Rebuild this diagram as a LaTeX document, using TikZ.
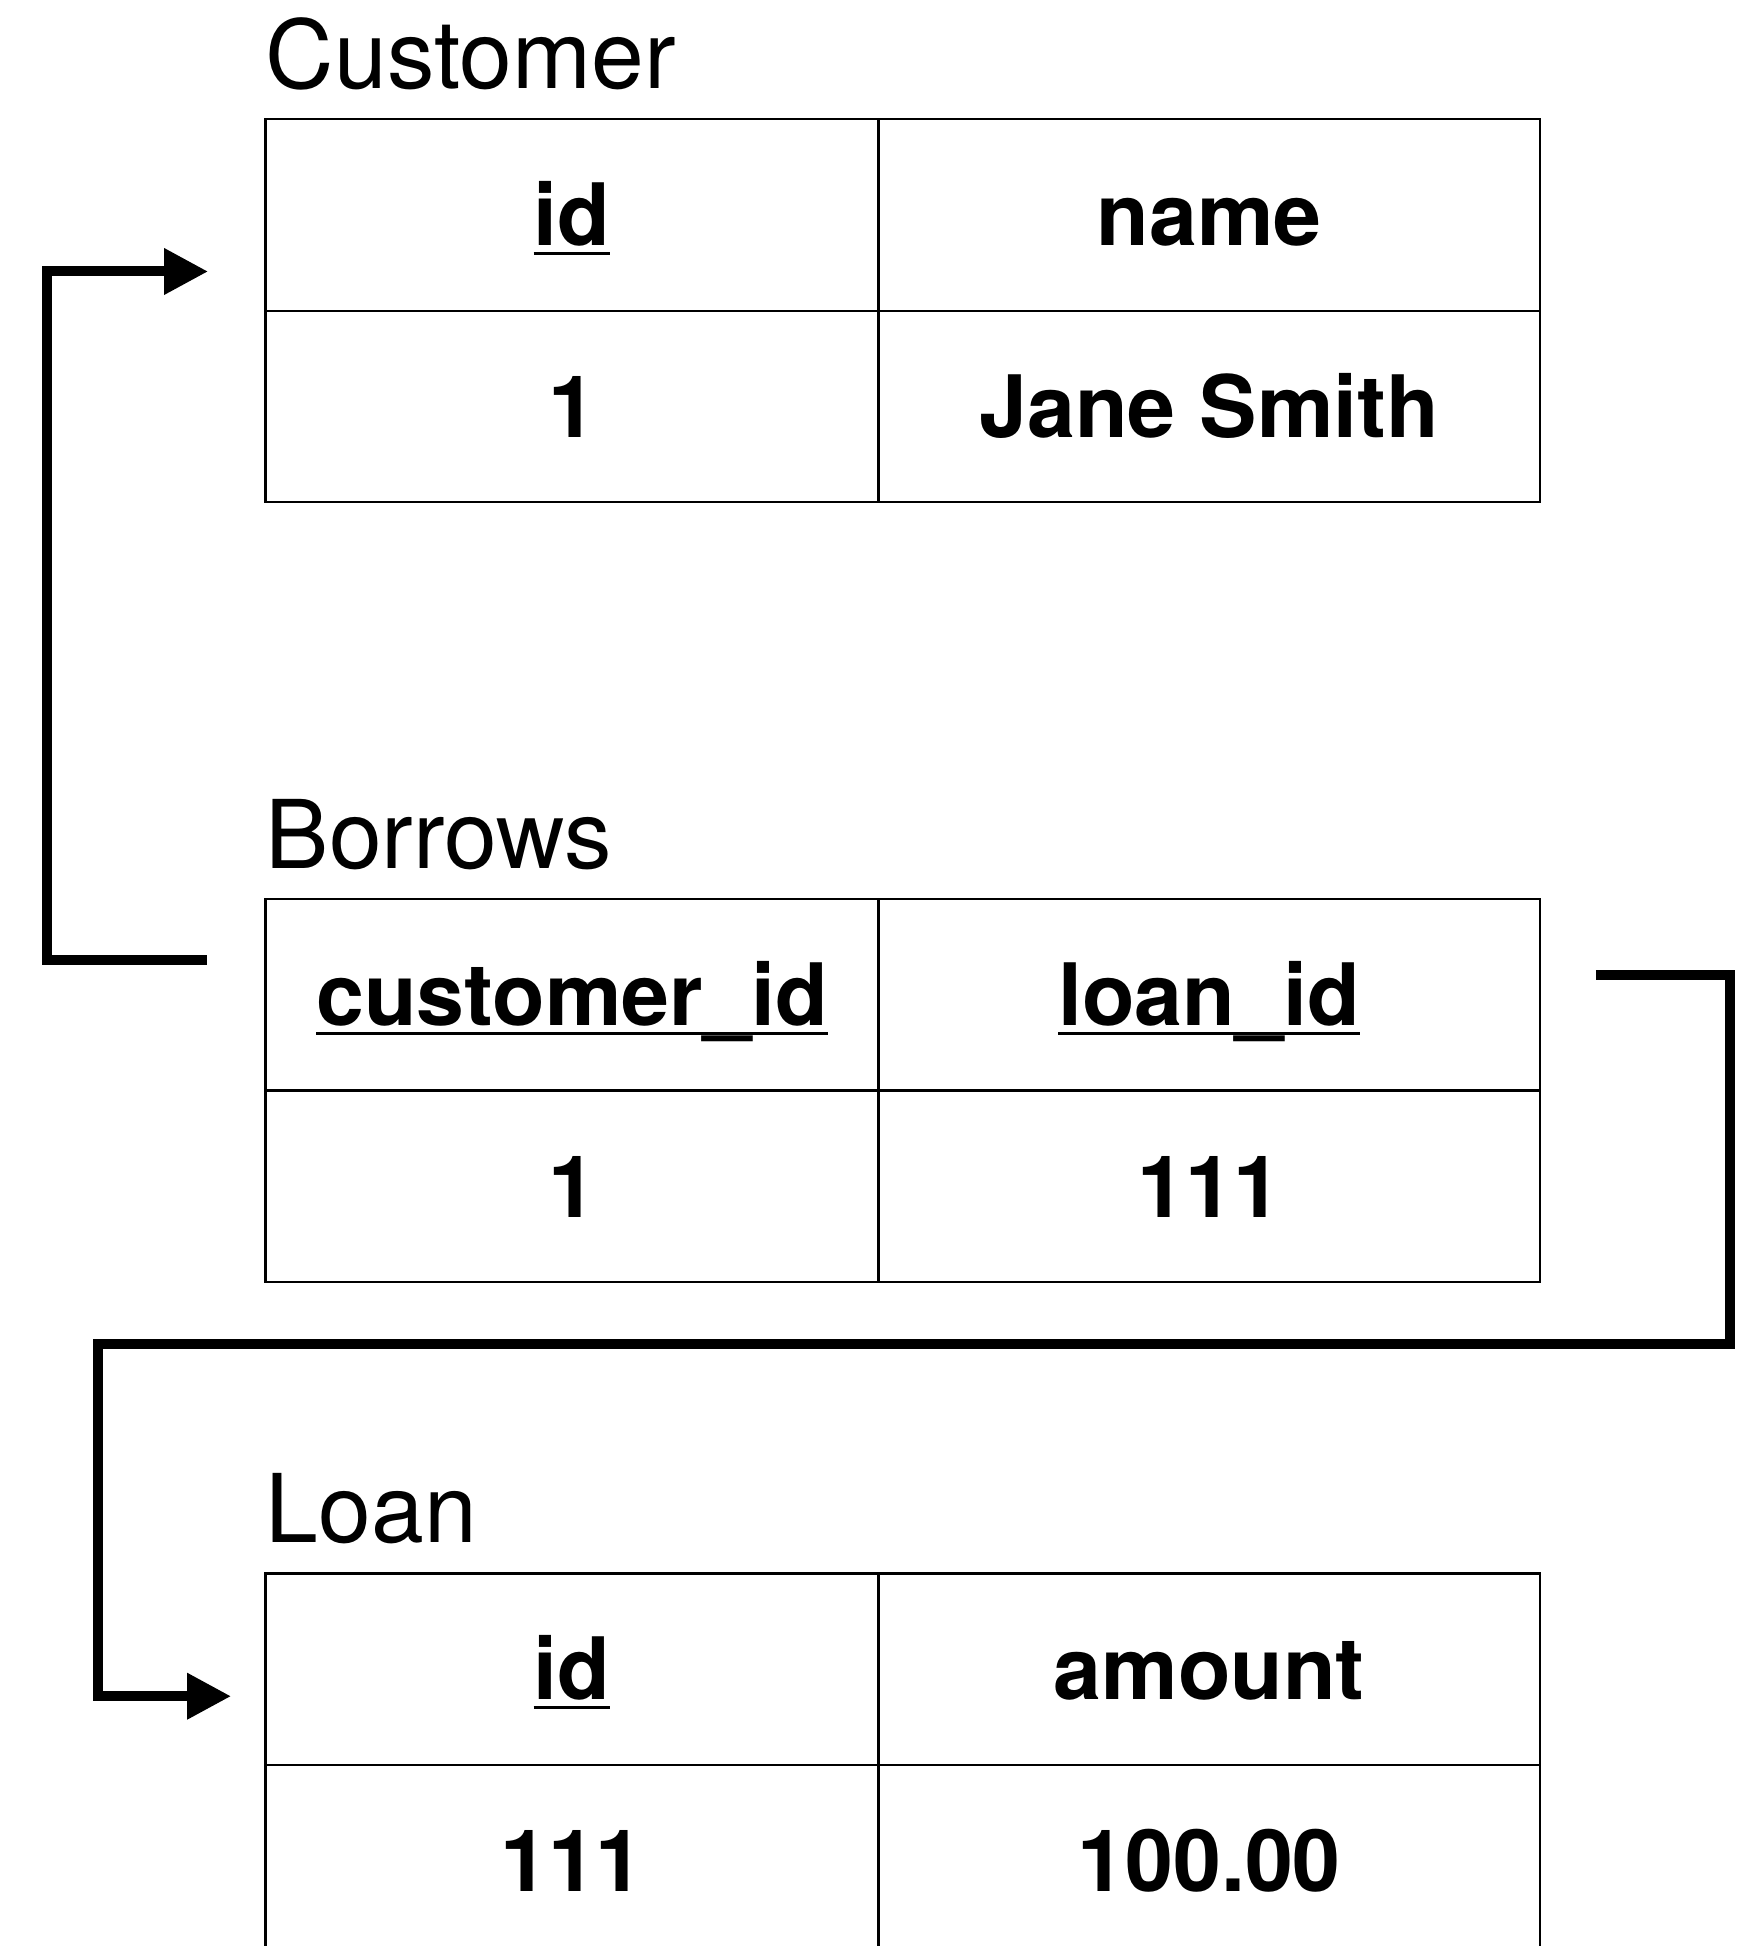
\documentclass[tikz,border=0pt]{standalone}
\usepackage{fontspec}
\setmainfont{TeX Gyre Heros}
\usepackage{tikz}
\usetikzlibrary{arrows.meta, positioning, calc}

% primary key: underlined header text
\newcommand{\pkey}[1]{\setbox0\hbox{#1}\rlap{\rule[-5.4pt]{\wd0}{1.7pt}}\box0}

\begin{document}
\begin{tikzpicture}[
  x=0.02cm, y=-0.02cm,
  node distance=0cm,
  cell/.style={rectangle, draw, line width=1.3pt, outer sep=0pt, inner sep=0pt,
               minimum height=3.83cm, text height=35pt, text depth=0pt,
               font=\fontsize{49}{59}\selectfont\bfseries},
  lcol/.style={cell, minimum width=12.26cm},
  rcol/.style={cell, minimum width=13.23cm},
  title/.style={anchor=base west, inner sep=0pt, font=\fontsize{54}{65}\selectfont},
  link/.style={-{Triangle[length=0.88cm, width=0.88cm]}, line width=0.2cm}
]
\useasboundingbox (0,0) rectangle (1746,1946);

% Customer
\node[lcol] (c11) at (572,215) {\pkey{id}};
\node[rcol, right=of c11] (c12) {name};
\node[lcol, below=of c11] (c21) {1};
\node[rcol, right=of c21] (c22) {Jane Smith};
\node[title] (custT) at ([yshift=0.62cm]c11.north west) {Customer};

% Borrows
\node[lcol, below=7.94cm of c21] (b11) {\pkey{customer\_id}};
\node[rcol, right=of b11] (b12) {\pkey{loan\_id}};
\node[lcol, below=of b11] (b21) {1};
\node[rcol, right=of b21] (b22) {111};
\node[title] (borT) at ([yshift=0.62cm]b11.north west) {Borrows};

% Loan
\node[lcol, below=5.83cm of b21] (l11) {\pkey{id}};
\node[rcol, right=of l11] (l12) {amount};
\node[lcol, below=of l11] (l21) {111};
\node[rcol, right=of l21] (l22) {100.00};
\node[title] (loanT) at ([yshift=0.62cm]l11.north west) {Loan};

% foreign keys
\coordinate (bfrom) at ([xshift=-1.18cm, yshift=0.7cm]b11.west);
\coordinate (cto) at ([xshift=-1.15cm, yshift=-1.13cm]c11.west);
\coordinate (lfrom) at ([xshift=1.12cm, yshift=0.4cm]b12.east);
\coordinate (turn) at ([xshift=-3.35cm, yshift=-1.24cm]b21.south west);
\coordinate (lto) at ([xshift=-0.69cm, yshift=-0.54cm]l11.west);

\draw[link] (bfrom) -- ++(-3.2cm,0) |- (cto);
\draw[link] (lfrom) -- ++(2.68cm,0) |- (turn) |- (lto);
\end{tikzpicture}
\end{document}
